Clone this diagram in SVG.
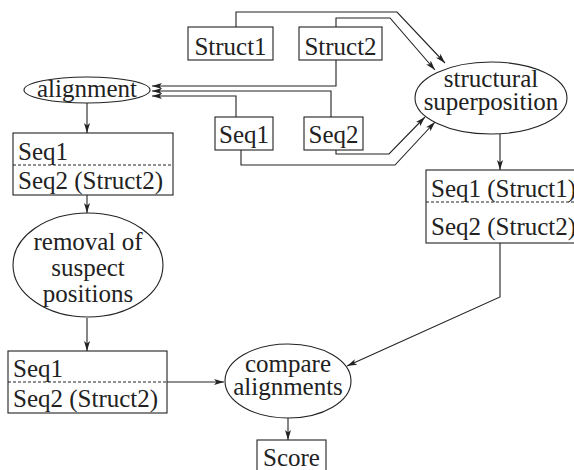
<svg xmlns="http://www.w3.org/2000/svg" width="574" height="470" viewBox="0 0 574 470">
<style>
.n{fill:#fff;stroke:#222;stroke-width:1.1}
.t{font-family:"Liberation Serif","Times New Roman",serif;font-size:25px;fill:#222}
.m{text-anchor:middle}
.d{stroke:#222;stroke-width:1;stroke-dasharray:3,2;fill:none}
.c{fill:none;stroke:#222;stroke-width:1.1;marker-end:url(#a)}
</style>
<defs>
<marker id="a" markerUnits="userSpaceOnUse" markerWidth="12" markerHeight="8" refX="10" refY="3" orient="auto" viewBox="0 0 12 8">
<path d="M0,0 L10,3 L0,6 L2.5,3 z" fill="#222"/>
</marker>
</defs>
<g id="connectors">
<path class="c" d="M236,27 V12 H397 L445,63"/>
<path class="c" d="M336,27 V18 H390 L435,70"/>
<path class="c" d="M336,60 V86 H152"/>
<path class="c" d="M331,117 V91 H152"/>
<path class="c" d="M236,117 V96 H152"/>
<path class="c" d="M336,150 V154 H389 L425,117"/>
<path class="c" d="M241,150 V165 H395 L435,122"/>
<path class="c" d="M87,103 V133"/>
<path class="c" d="M87,195 V213"/>
<path class="c" d="M87,318 V351"/>
<path class="c" d="M167,382 H224"/>
<path class="c" d="M500,134 V170"/>
<path class="c" d="M500,243 V297 L347,366"/>
<path class="c" d="M288,418 V440"/>
</g>
<g id="struct1"><rect class="n" x="188" y="27" width="85" height="33"/><text class="t m" x="230.5" y="55">Struct1</text></g>
<g id="struct2"><rect class="n" x="299" y="27" width="83" height="33"/><text class="t m" x="340.5" y="55">Struct2</text></g>
<g id="seq1"><rect class="n" x="215" y="117" width="58" height="33"/><text class="t m" x="244" y="143">Seq1</text></g>
<g id="seq2"><rect class="n" x="304" y="117" width="59" height="33"/><text class="t m" x="333.5" y="143">Seq2</text></g>
<g id="alignment"><ellipse class="n" cx="87" cy="90" rx="63" ry="13"/><text class="t m" x="87" y="97">alignment</text></g>
<g id="superposition"><ellipse class="n" cx="491" cy="98" rx="76" ry="36"/><text class="t m" x="491" y="87">structural</text><text class="t m" x="491" y="110">superposition</text></g>
<g id="aln1"><rect class="n" x="13" y="133" width="160" height="62"/><line class="d" x1="13" y1="165" x2="173" y2="165"/><text class="t" x="18" y="160">Seq1</text><text class="t" x="18" y="189">Seq2 (Struct2)</text></g>
<g id="aln-struct"><rect class="n" x="426" y="170" width="160" height="73"/><line class="d" x1="426" y1="202" x2="586" y2="202"/><text class="t" x="431" y="197">Seq1 (Struct1)</text><text class="t" x="431" y="235">Seq2 (Struct2)</text></g>
<g id="removal"><ellipse class="n" cx="88" cy="265" rx="75" ry="52"/><text class="t m" x="88" y="250">removal of</text><text class="t m" x="88" y="276">suspect</text><text class="t m" x="88" y="302">positions</text></g>
<g id="aln2"><rect class="n" x="8" y="351" width="159" height="62"/><line class="d" x1="8" y1="382" x2="167" y2="382"/><text class="t" x="13" y="377">Seq1</text><text class="t" x="13" y="407">Seq2 (Struct2)</text></g>
<g id="compare"><ellipse class="n" cx="288" cy="381" rx="63" ry="37"/><text class="t m" x="288" y="372">compare</text><text class="t m" x="288" y="395">alignments</text></g>
<g id="score"><rect class="n" x="257" y="440" width="69" height="40"/><text class="t m" x="291.5" y="466">Score</text></g>
</svg>
